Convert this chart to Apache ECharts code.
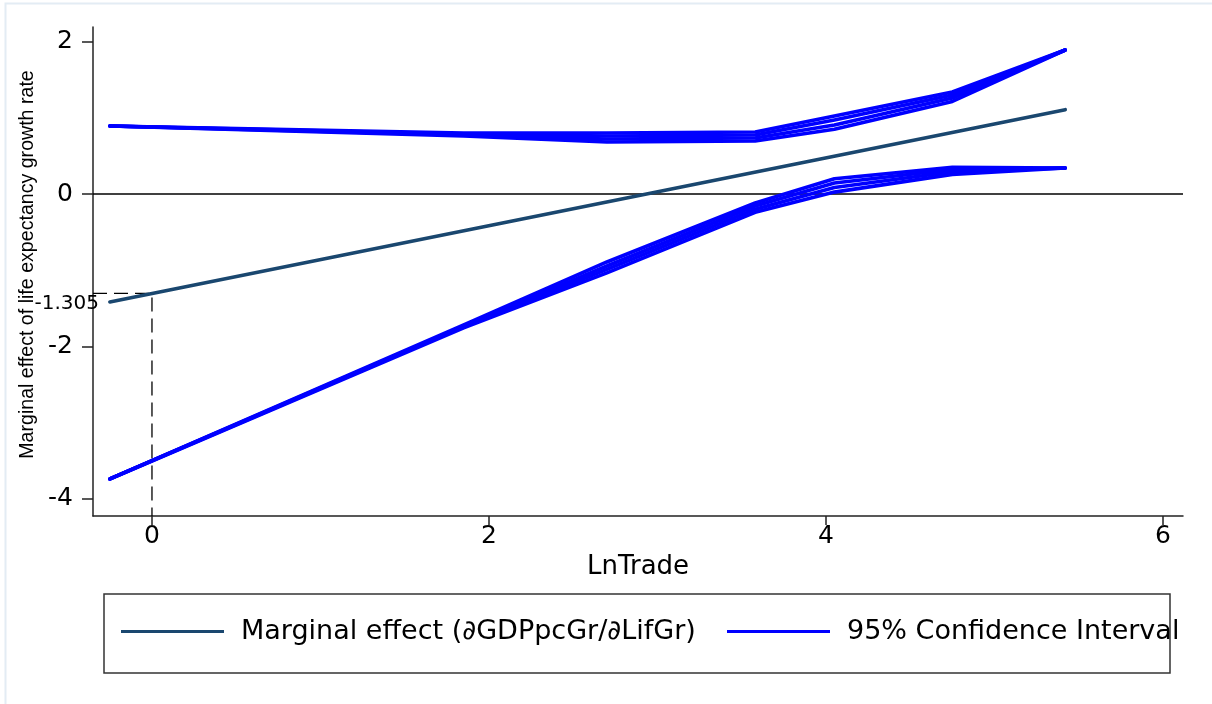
<!DOCTYPE html>
<html>
<head>
<meta charset="utf-8">
<script src="https://cdn.jsdelivr.net/npm/echarts@6/dist/echarts.min.js"></script>
<style>
html,body{margin:0;padding:0;background:#fff;}
#chart{width:1212px;height:704px;}
</style>
</head>
<body>
<div id="chart"></div>
<script>
// ---- data ----
const xRange = [-0.35, 6.119];
const yRange = [-4.226, 2.192];
const xTicks = [0, 2, 4, 6];
const yTicks = [-4, -2, 0, 2];
const refX = 0;
const refY = -1.305;
const refLabel = ['-1.305'];

const meName = 'Marginal effect (\u2202GDPpcGr/\u2202LifGr)';
const ciName = '95% Confidence Interval';

const meX = [-0.25, 5.42];
const meY = [-1.416, 1.107];

const ciX = [-0.25, 1.85, 2.7, 3.58, 4.05, 4.75, 5.42];
const upper1 = [0.892, 0.801, 0.801, 0.814, 1.024, 1.339, 1.890];
const upper2 = [0.892, 0.787, 0.761, 0.774, 0.971, 1.299, 1.890];
const upper3 = [0.892, 0.774, 0.722, 0.735, 0.906, 1.260, 1.890];
const upper4 = [0.892, 0.761, 0.682, 0.695, 0.850, 1.215, 1.890];
const lower1 = [-3.740, -1.719, -0.892, -0.118, 0.200, 0.350, 0.341];
const lower2 = [-3.740, -1.732, -0.945, -0.157, 0.144, 0.322, 0.341];
const lower3 = [-3.740, -1.745, -0.990, -0.200, 0.085, 0.292, 0.341];
const lower4 = [-3.740, -1.755, -1.035, -0.240, 0.025, 0.258, 0.341];

// ---- build ----
const pair = (xs, ys) => xs.map((x, i) => [x, ys[i]]);
const FONT = 'DejaVu Sans';
const axisCol = '#222';

const ciSeries = [upper1, upper2, upper3, upper4, lower1, lower2, lower3, lower4].map(arr => ({
  type: 'line', name: ciName, data: pair(ciX, arr),
  showSymbol: false, symbol: 'none', silent: true, z: 3,
  lineStyle: { color: '#0000ff', width: 3.6, join: 'round', cap: 'round' },
  itemStyle: { color: '#0000ff' }
}));

const chart = echarts.init(document.getElementById('chart'), null, { renderer: 'canvas' });
chart.setOption({
  animation: false,
  backgroundColor: '#ffffff',
  grid: { left: 93, right: 29, top: 27, bottom: 188, containLabel: false },
  xAxis: {
    type: 'value', min: xRange[0], max: xRange[1],
    axisLine: { show: true, onZero: false, lineStyle: { color: axisCol, width: 1.5 } },
    axisTick: { show: true, customValues: xTicks, length: 9, lineStyle: { color: axisCol, width: 1.5 } },
    axisLabel: { customValues: xTicks, margin: 8, fontFamily: FONT, fontSize: 25, color: '#000' },
    splitLine: { show: false },
    name: 'LnTrade', nameLocation: 'middle', nameGap: 34,
    nameTextStyle: { fontFamily: FONT, fontSize: 26, color: '#000' }
  },
  yAxis: [{
    type: 'value', min: yRange[0], max: yRange[1],
    axisLine: { show: true, onZero: false, lineStyle: { color: axisCol, width: 1.5 } },
    axisTick: { show: true, customValues: yTicks, length: 11, lineStyle: { color: axisCol, width: 1.5 } },
    axisLabel: { customValues: yTicks, margin: 20, fontFamily: FONT, fontSize: 25, color: '#000', padding: [0, 0, 8, 0] },
    splitLine: { show: false },
    name: 'Marginal effect of life expectancy growth rate', nameLocation: 'middle', nameGap: 52,
    nameTextStyle: { fontFamily: 'Liberation Sans', fontSize: 19.6, color: '#000', padding: [0, 0, 0, 14] }
  }, {
    type: 'value', min: yRange[0], max: yRange[1], position: 'left',
    axisLine: { show: false }, axisTick: { show: false }, splitLine: { show: false },
    axisLabel: {
      customValues: [refY], margin: -6, fontFamily: FONT, fontSize: 20, color: '#000',
      verticalAlign: 'top', formatter: () => refLabel[0]
    }
  }],
  legend: [{
    data: [meName], left: 116, top: 613, icon: 'rect', itemWidth: 103, itemHeight: 3,
    textStyle: { fontFamily: FONT, fontSize: 27, color: '#000', padding: [0, 0, 0, 12] },
    selectedMode: false
  }, {
    data: [ciName], left: 722, top: 613, icon: 'rect', itemWidth: 103, itemHeight: 3,
    textStyle: { fontFamily: FONT, fontSize: 27, color: '#000', padding: [0, 0, 0, 12] },
    selectedMode: false
  }],
  graphic: [
    { type: 'rect', left: 3, top: 1, shape: { x: 0, y: 0, width: 1300, height: 800 },
      style: { fill: 'none', stroke: '#e3ecf4', lineWidth: 2 }, silent: true, z: 0 },
    { type: 'rect', shape: { x: 104, y: 594, width: 1066, height: 79 },
      style: { fill: 'none', stroke: '#333', lineWidth: 1.5 }, silent: true }
  ],
  series: [
    { type: 'line', data: [[xRange[0], 0], [xRange[1], 0]], symbol: 'none', silent: true, z: 1,
      lineStyle: { color: '#000', width: 1.5 } },
    { type: 'line', data: [[xRange[0], refY], [refX, refY], [refX, yRange[0]]], symbol: 'none', silent: true, z: 1,
      lineStyle: { color: '#000', width: 1.3, type: [14, 7] } },
    ...ciSeries,
    { type: 'line', name: meName, data: pair(meX, meY), symbol: 'none', showSymbol: false, silent: true, z: 4,
      lineStyle: { color: '#1a476f', width: 3.6, cap: 'round' }, itemStyle: { color: '#1a476f' } }
  ]
});
</script>
</body>
</html>
